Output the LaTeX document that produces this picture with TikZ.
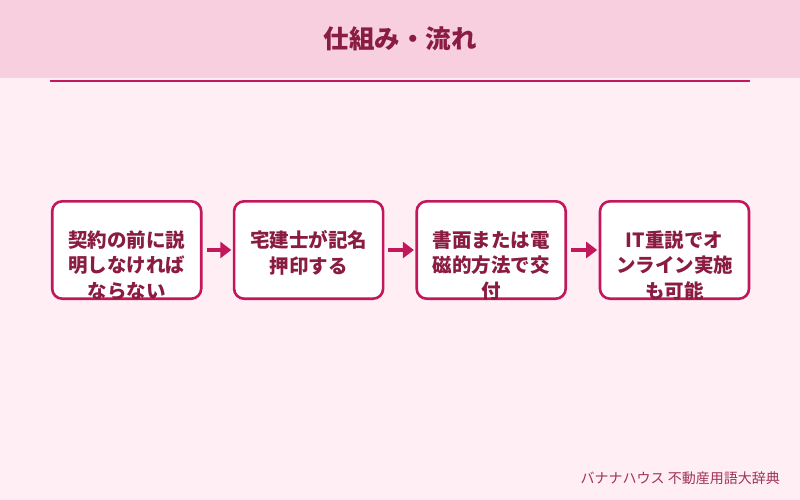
\documentclass[tikz,border=0pt]{standalone}
\usepackage{fontspec}
\setmainfont{Noto Sans CJK JP}
\usetikzlibrary{arrows.meta}
\definecolor{bgpink}{HTML}{FFEEF4}
\definecolor{headpink}{HTML}{F7CFDE}
\definecolor{accent}{HTML}{C2185B}
\definecolor{textdark}{HTML}{8A1C42}
\definecolor{footc}{HTML}{A0325A}
\tikzset{
  stepbox/.style={draw=accent, fill=white, line width=2.6pt, rounded corners=10pt,
    minimum width=149pt, minimum height=97.4pt, inner sep=0pt},
  steptext/.style={text=textdark, align=center, inner sep=0pt,
    font=\fontsize{19.5}{25.5}\selectfont\bfseries},
  flowarrow/.style={draw=accent, line width=4pt,
    -{Triangle[length=11pt,width=16pt]}, shorten <=4pt, shorten >=1.5pt},
}
\begin{document}
\begin{tikzpicture}[x=1pt,y=-1pt]
\useasboundingbox (0,0) rectangle (800,500);
\fill[bgpink] (0,0) rectangle (800,500);
\fill[headpink] (0,0) rectangle (800,78);
\node[text=textdark, font=\fontsize{25.5}{30}\selectfont\bfseries, inner sep=0pt] (title) at (400,39) {仕組み・流れ};
\coordinate (rl) at (50,80.8);
\coordinate (rr) at (750,80.8);
\draw[accent, line width=2pt] (rl) -- (rr);

\node[stepbox] (b1) at (126.7,250) {};
\node[stepbox] (b2) at (308.6,250) {};
\node[stepbox] (b3) at (491.2,250) {};
\node[stepbox] (b4) at (674.5,250) {};

\node[steptext] (t1) at (126.5,265.5) {契約の前に説\\明しなければ\\ならない};
\node[steptext] (t2) at (308.6,253) {宅建士が記名\\押印する};
\node[steptext] (t3) at (491.2,265.5) {書面または電\\磁的方法で交\\付};
\node[steptext] (t4) at (674.5,265.5) {IT重説でオ\\ンライン実施\\も可能};

\draw[flowarrow] (b1.east) -- (b2.west);
\draw[flowarrow] (b2.east) -- (b3.west);
\draw[flowarrow] (b3.east) -- (b4.west);

\node[text=footc, font=\fontsize{14}{16}\selectfont, anchor=east, inner sep=0pt] (foot) at (780,478.5) {バナナハウス 不動産用語大辞典};
\end{tikzpicture}
\end{document}
